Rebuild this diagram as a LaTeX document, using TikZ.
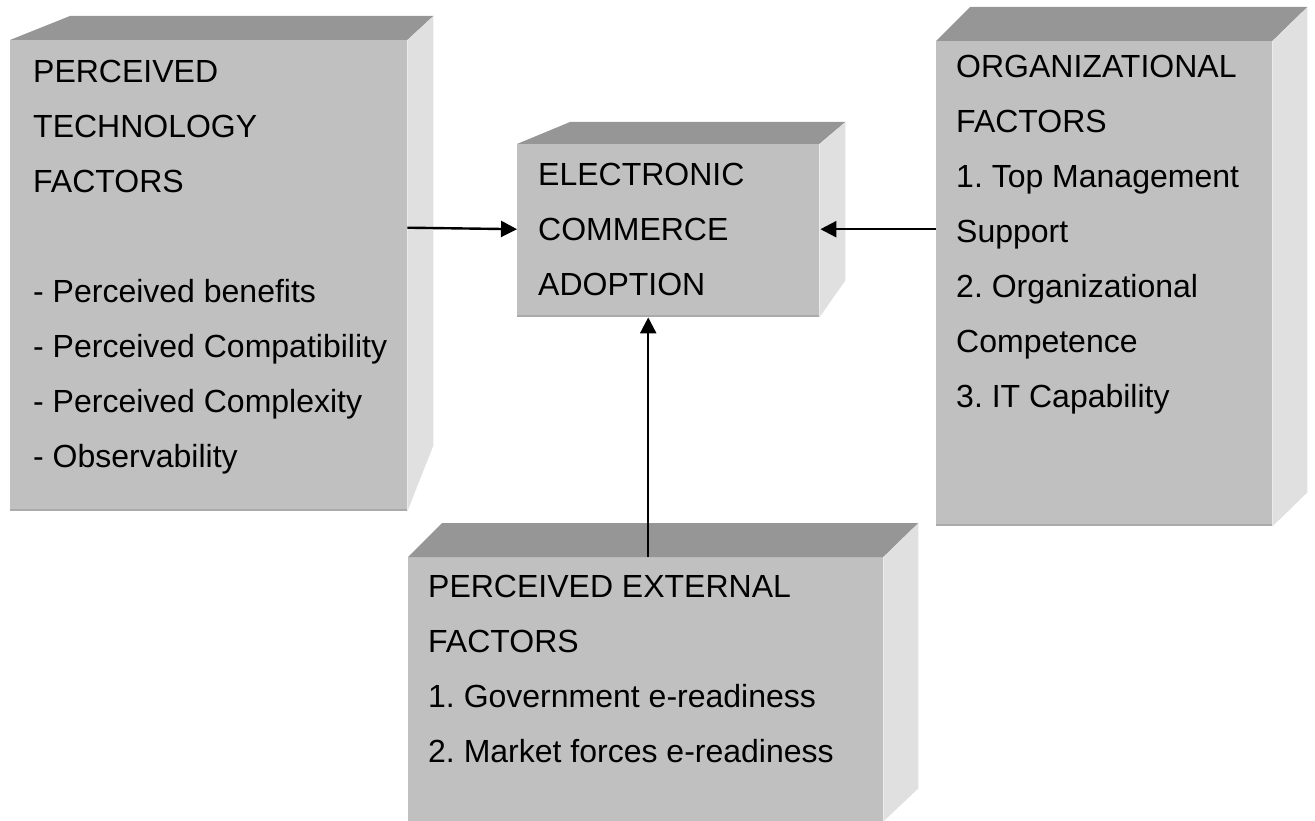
\documentclass[tikz,border=0pt]{standalone}
\usepackage{fontspec}
\setmainfont{Liberation Sans}
\usetikzlibrary{arrows.meta}
\frenchspacing

\definecolor{frontgray}{RGB}{192,192,192}
\definecolor{topgray}{RGB}{150,150,150}
\definecolor{sidegray}{RGB}{224,224,224}
\definecolor{edgegray}{RGB}{170,170,170}

\begin{document}
\begin{tikzpicture}[x=1pt, y=-1pt]
                \tikzset{
                    front/.style={fill=frontgray, anchor=north west, inner sep=0pt},
                    topface/.style={fill=topgray},
                    sideface/.style={fill=sidegray},
                    txt/.style={anchor=north west, align=left, inner sep=0pt,
                        font=\fontsize{32}{55}\selectfont},
                    arr/.style={-{Triangle[length=16pt, width=16pt]}, line width=2.4pt}
                }
                \useasboundingbox (0,0) rectangle (1315,821);

                % FRONT FACES
                \node[front, minimum width=397pt, minimum height=471pt] (tech) at (10,40) {};
                \node[front, minimum width=302pt, minimum height=173pt] (ecom) at (517,144) {};
                \node[front, minimum width=336pt, minimum height=485pt] (org) at (936,41) {};
                \node[front, minimum width=475pt, minimum height=264pt] (ext) at (408,557) {};

                % TOP FACES
                \fill[topface] (tech.north west) -- ++(60,-24) -- ([shift={(26,-24)}]tech.north east) -- (tech.north east) -- cycle;
                \fill[topface] (ecom.north west) -- ++(53,-22) -- ([shift={(26,-22)}]ecom.north east) -- (ecom.north east) -- cycle;
                \fill[topface] (org.north west) -- ++(34,-34) -- ([shift={(35,-34)}]org.north east) -- (org.north east) -- cycle;
                \fill[topface] (ext.north west) -- ++(34,-34) -- ([shift={(35,-34)}]ext.north east) -- (ext.north east) -- cycle;

                % SIDE FACES
                \fill[sideface] (tech.north east) -- ++(26,-24) -- ([shift={(26,-66)}]tech.south east) -- (tech.south east) -- cycle;
                \fill[sideface] (ecom.north east) -- ++(26,-22) -- ([shift={(26,-37)}]ecom.south east) -- (ecom.south east) -- cycle;
                \fill[sideface] (org.north east) -- ++(35,-34) -- ([shift={(35,-34)}]org.south east) -- (org.south east) -- cycle;
                \fill[sideface] (ext.north east) -- ++(35,-34) -- ([shift={(35,-33)}]ext.south east) -- (ext.south east) -- cycle;

                % BOTTOM EDGES
                \draw[edgegray, line width=2pt] ([yshift=1pt]tech.south west) -- ([yshift=1pt]tech.south east);
                \draw[edgegray, line width=2pt] ([yshift=1pt]ecom.south west) -- ([yshift=1pt]ecom.south east);
                \draw[edgegray, line width=2pt] ([yshift=1pt]org.south west) -- ([yshift=1pt]org.south east);

                % TEXTS
                \node[txt] (techtxt) at ([shift={(23,20)}]tech.north west)
                    {PERCEIVED\\TECHNOLOGY\\FACTORS\\ \mbox{}\\- Perceived benefits\\- Perceived Compatibility\\- Perceived Complexity\\- Observability};
                \node[txt] (ecomtxt) at ([shift={(21,19)}]ecom.north west)
                    {ELECTRONIC\\COMMERCE\\ADOPTION};
                \node[txt] (orgtxt) at ([shift={(20,14)}]org.north west)
                    {ORGANIZATIONAL\\FACTORS\\1. Top Management\\Support\\2. Organizational\\Competence\\3. IT Capability};
                \node[txt] (exttxt) at ([shift={(20,18)}]ext.north west)
                    {PERCEIVED EXTERNAL\\FACTORS\\1. Government e-readiness\\2. Market forces e-readiness};

                % ARROWS
                \draw[arr] ([shift={(0,-48)}]tech.east) -- ([shift={(0,-1.5)}]ecom.west);
                \draw[arr] ([shift={(0,-54.5)}]org.west) -- ([shift={(1,-1.5)}]ecom.east);
                \draw[arr] ([xshift=2.5pt]ext.north) -- ([xshift=2.5pt]ext.north |- ecom.south);

            \end{tikzpicture}
\end{document}
